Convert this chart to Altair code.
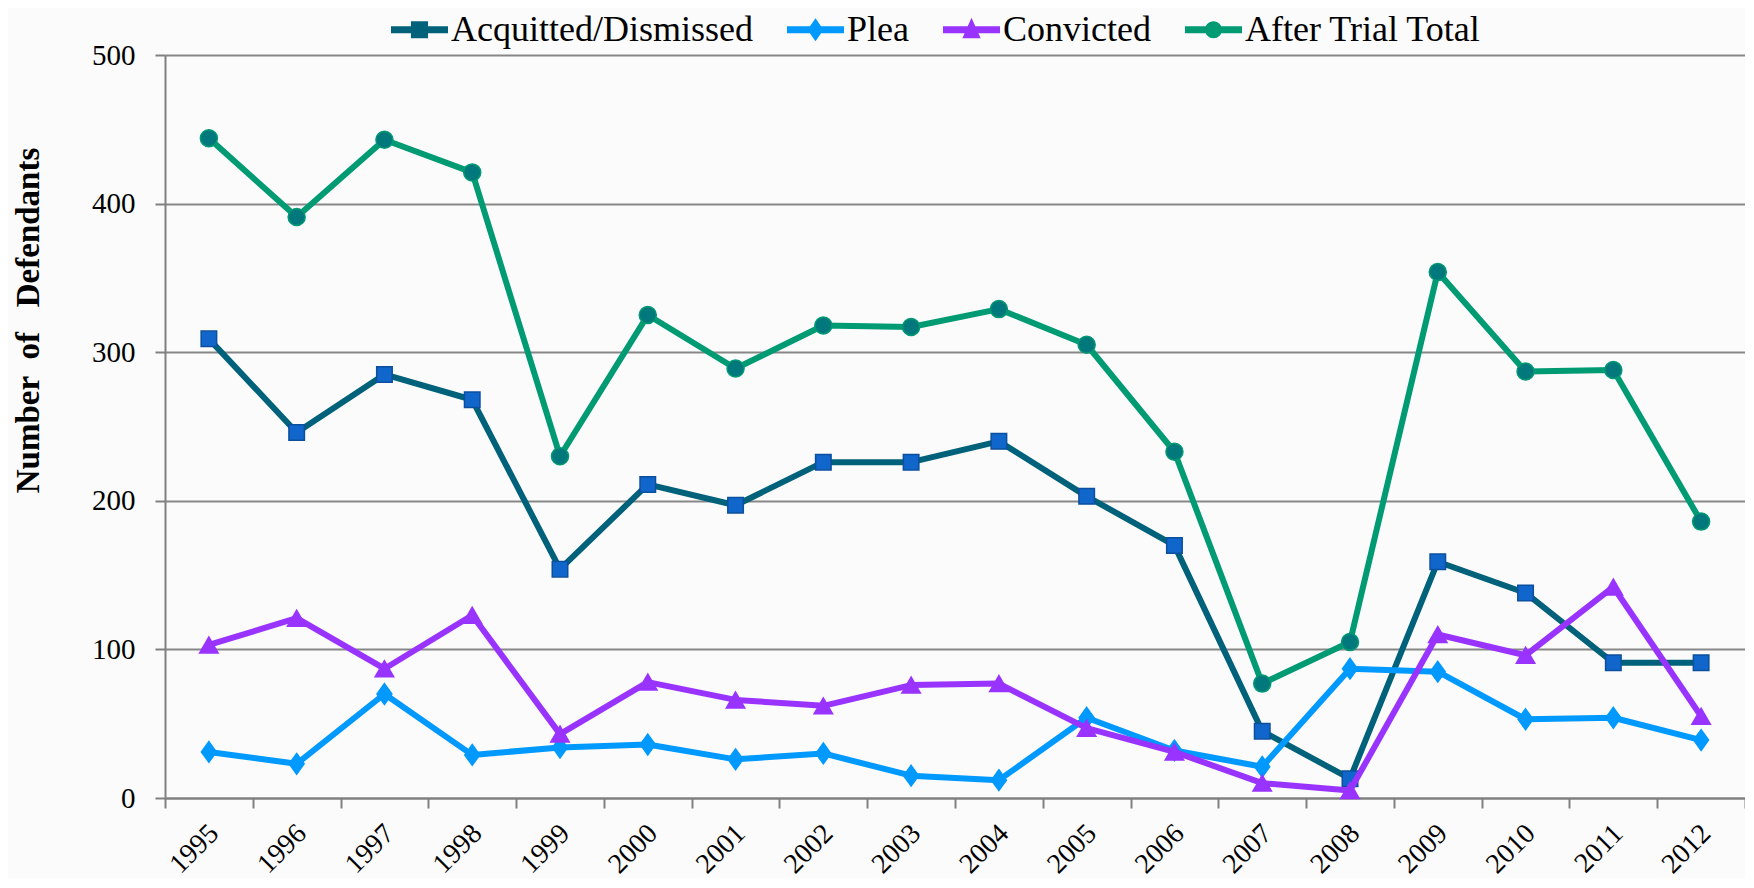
import altair as alt
import pandas as pd

years = [str(y) for y in range(1995, 2013)]
acquitted = [309, 246, 285, 268, 154, 211, 197, 226, 226, 240, 203, 170, 45, 13, 159, 138, 91, 91]
plea = [31, 23, 70, 29, 34, 36, 26, 30, 15, 12, 54, 32, 21, 87, 85, 53, 54, 39]
convicted = [103, 121, 87, 123, 43, 78, 66, 62, 76, 77, 47, 31, 10, 5, 110, 96, 142, 55]
total = [444, 391, 443, 421, 230, 325, 289, 318, 317, 329, 305, 233, 77, 105, 354, 287, 288, 186]

series_names = ["Acquitted/Dismissed", "Plea", "Convicted", "After Trial Total"]
series_values = [acquitted, plea, convicted, total]
line_colors = ["#00617a", "#0099ff", "#9933ff", "#009a73"]
marker_fill = ["#1166cc", "#0099ff", "#9933ff", "#00787c"]
marker_stroke = ["#0b4f9e", "#0099ff", "#9933ff", "#009a73"]
marker_shapes = ["square", "M0,-1L0.72,0L0,1L-0.72,0Z", "triangle-up", "circle"]
marker_sizes = [240, 430, 340, 290]
legend_paths = [
    "M-1,-0.12H1V0.12H-1Z M-0.3,-0.3H0.3V0.3H-0.3Z",
    "M-1,-0.12H1V0.12H-1Z M0,-0.4L0.28,0L0,0.4L-0.28,0Z",
    "M-1,-0.12H1V0.12H-1Z M0,-0.42L0.32,0.3H-0.32Z",
    "M-1,-0.12H1V0.12H-1Z M-0.3,0A0.3,0.3 0 1,1 0.3,0A0.3,0.3 0 1,1 -0.3,0Z",
]

rows = []
for name, vals in zip(series_names, series_values):
    for yr, v in zip(years, vals):
        rows.append({"year": yr, "series": name, "value": v})
df = pd.DataFrame(rows)

FONT = "Liberation Serif"

x_enc = alt.X(
    "year:O",
    bandPosition=0.5,
    scale=alt.Scale(type="band", domain=years, paddingInner=0, paddingOuter=0),
    axis=alt.Axis(
        title=None, labelAngle=315, labelAlign="right", labelBaseline="middle",
        labelPadding=21, labelOffset=5, tickBand="extent", grid=False,
        domainColor="#808080", domainWidth=2, tickColor="#808080", tickWidth=2,
        tickSize=10, labelFont=FONT, labelFontSize=28, labelColor="black",
    ),
)
y_enc = alt.Y(
    "value:Q",
    scale=alt.Scale(domain=[0, 500], nice=False),
    axis=alt.Axis(
        values=[0, 100, 200, 300, 400, 500], grid=True, gridColor="#878787",
        gridWidth=2, domainColor="#808080", domainWidth=2, tickColor="#808080",
        tickWidth=2, tickSize=10, labelFont=FONT, labelFontSize=29,
        labelColor="black", labelPadding=20,
        title="Number\u00a0\u00a0of\u00a0\u00a0\u00a0Defendants",
        titleFont=FONT, titleFontSize=33, titleFontWeight="bold", titleColor="black",
        titleX=-137, titleY=265, titleAngle=270, titleAlign="center",
        titleBaseline="middle",
    ),
)

layers = []
for i, name in enumerate(series_names):
    sub = alt.Chart(df).transform_filter(alt.datum.series == name)
    layers.append(
        sub.mark_line(color=line_colors[i], strokeWidth=6, strokeJoin="round",
                      strokeCap="round").encode(x=x_enc, y=y_enc)
    )
    layers.append(
        sub.mark_point(shape=marker_shapes[i], filled=True, fill=marker_fill[i],
                       stroke=marker_stroke[i], strokeWidth=1.5,
                       size=marker_sizes[i], opacity=1).encode(x=x_enc, y=y_enc)
    )

leg = alt.Legend(
    orient="none", legendX=226, legendY=-54, direction="horizontal", title=None,
    symbolSize=3249, symbolStrokeWidth=0, labelFont=FONT, labelFontSize=36,
    labelColor="black", labelOffset=3, columnPadding=34, padding=0,
    labelLimit=1000, symbolOpacity=1,
)
legend_layer = (
    alt.Chart(df)
    .transform_filter("datum.value < 0")
    .mark_point(filled=True, opacity=1)
    .encode(
        x=x_enc, y=y_enc,
        color=alt.Color("series:N", scale=alt.Scale(domain=series_names, range=line_colors), legend=leg),
        shape=alt.Shape("series:N", scale=alt.Scale(domain=series_names, range=legend_paths), legend=leg),
    )
)
layers.append(legend_layer)

chart = (
    alt.layer(*layers)
    .properties(
        width=1580, height=743,
        autosize=alt.AutoSizeParams(type="none"),
        padding={"left": 157, "top": 47, "right": 0, "bottom": 80},
        background="#fbfbfb",
    )
    .configure_view(strokeWidth=0)
)

chart.save("out.html", embed_options={"renderer": "svg", "actions": False})
